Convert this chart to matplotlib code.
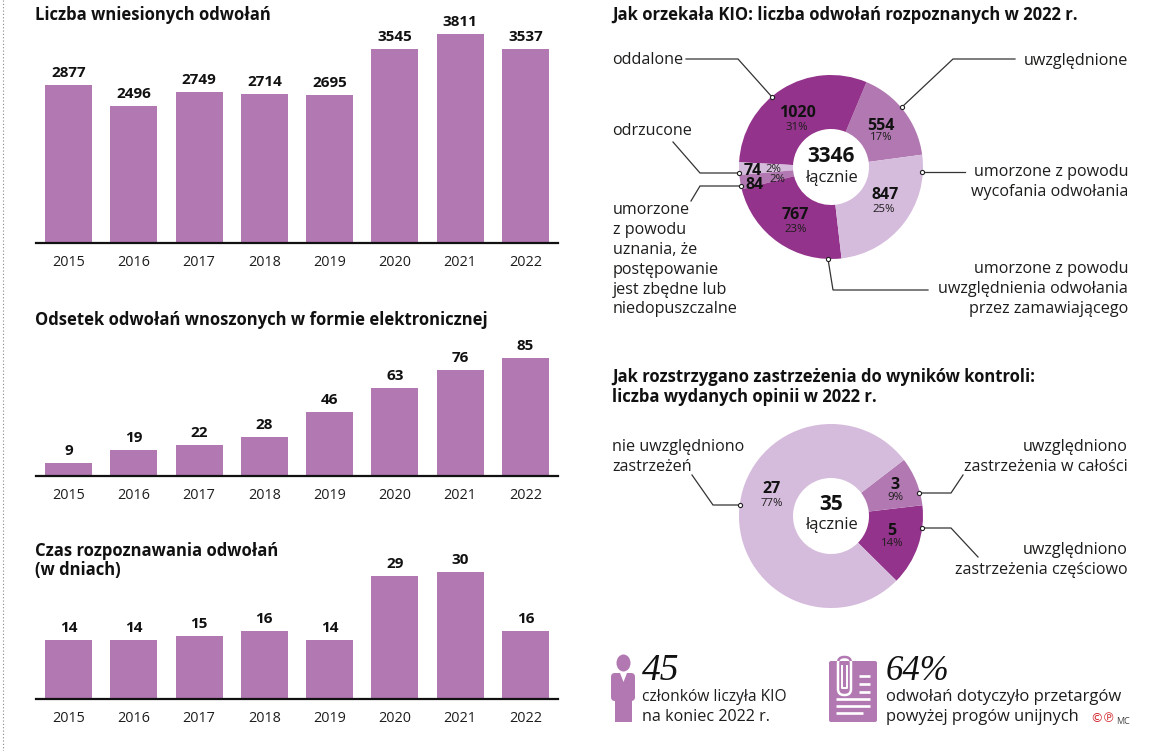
import matplotlib
matplotlib.use("Agg")
import matplotlib.pyplot as plt
from matplotlib.patches import Ellipse, FancyBboxPatch, Rectangle, Polygon

plt.rcParams["font.family"] = ["Open Sans", "DejaVu Sans"]

W, H = 1176, 751

MEDIUM = "#b178b1"
DARK = "#93338b"
LIGHT = "#d5bbdc"
TEXT = "#1d1d1b"

years = ["2015", "2016", "2017", "2018", "2019", "2020", "2021", "2022"]
appeals = [2877, 2496, 2749, 2714, 2695, 3545, 3811, 3537]
electronic = [9, 19, 22, 28, 46, 63, 76, 85]
days = [14, 14, 15, 16, 14, 29, 30, 16]

# counter-clockwise from the right side of each ring
kio_labels = ["554", "1020", "74", "84", "767", "847"]
kio_values = [554, 1020, 74, 84, 767, 847]
kio_pct = ["17%", "31%", "2%", "2%", "23%", "25%"]
kio_colors = [MEDIUM, DARK, LIGHT, MEDIUM, DARK, LIGHT]
kio_total = "3346"

opinion_values = [5, 3, 27]
opinion_pct = ["14%", "9%", "77%"]
opinion_colors = [DARK, MEDIUM, LIGHT]
opinion_total = "35"

fig = plt.figure(figsize=(W / 100, H / 100), dpi=100, facecolor="white")


def px_axes(left, top, right, bottom):
    return fig.add_axes([left / W, 1 - bottom / H, (right - left) / W, (bottom - top) / H])


# ================= BARS =================

def draw_bars(values, top, bottom, ymax):
    ax = px_axes(36, top, 558, bottom)
    ax.bar(range(len(values)), values, width=0.72, color=MEDIUM)
    ax.set_xlim(-0.5, 7.5)
    ax.set_ylim(0, ymax)
    ax.set_xticks(range(len(values)))
    ax.set_xticklabels(years, fontsize=10.4, color=TEXT)
    ax.set_yticks([])
    ax.tick_params(axis="x", length=0, pad=8.5)
    for side in ["top", "left", "right"]:
        ax.spines[side].set_visible(False)
    ax.spines["bottom"].set_linewidth(1.6)
    ax.spines["bottom"].set_color("#111111")
    ax.patch.set_alpha(0)
    for i, v in enumerate(values):
        ax.annotate(str(v), (i, v), xytext=(0, 5), textcoords="offset pixels",
                    ha="center", va="bottom", fontsize=11, fontweight="bold", color="#111111")


draw_bars(appeals, 24, 243, 4000)
draw_bars(electronic, 337, 476, 100)
draw_bars(days, 551, 699, 35)


# ================= RINGS =================

def draw_ring(values, colors, cx, cy, start):
    r = 92
    ax = px_axes(cx - r, cy - r, cx + r, cy + r)
    ax.pie(values, colors=colors, startangle=start, radius=1,
           wedgeprops={"width": 1 - 38 / 92, "linewidth": 0})
    ax.set_xlim(-1, 1)
    ax.set_ylim(-1, 1)


draw_ring(kio_values, kio_colors, 831, 167, 7.7)
draw_ring(opinion_values, opinion_colors, 831, 516, -44.7)

# overlay in pixel coordinates for texts, leaders and icons
ov = fig.add_axes([0, 0, 1, 1])
ov.set_xlim(0, W)
ov.set_ylim(H, 0)
ov.axis("off")
ov.patch.set_alpha(0)


def put(x, y, s, size=11.6, weight="normal", ha="left", color=TEXT, **kw):
    ov.text(x, y, s, fontsize=size, fontweight=weight, ha=ha, va="center", color=color, **kw)


def title(x, y, s):
    put(x, y, s, size=12, weight="bold", color="#111111")


def leader(points):
    xs = [p[0] for p in points]
    ys = [p[1] for p in points]
    ov.plot(xs, ys, color="#333333", lw=0.9, solid_joinstyle="miter")
    ov.plot(xs[-1], ys[-1], "o", ms=3, mfc="white", mec="#222222", mew=0.8)


title(35, 15, "Liczba wniesionych odwołań")
title(35, 320, "Odsetek odwołań wnoszonych w formie elektronicznej")
title(35, 551, "Czas rozpoznawania odwołań")
title(35, 570, "(w dniach)")
title(612, 15, "Jak orzekała KIO: liczba odwołań rozpoznanych w 2022 r.")
title(612, 377, "Jak rozstrzygano zastrzeżenia do wyników kontroli:")
title(612, 397, "liczba wydanych opinii w 2022 r.")

# first ring
kio_xy = [(881, 126), (797, 113), (753, 171), (755, 185), (795, 215), (885, 195)]
kio_pct_xy = [(881, 138), (797, 127), (773, 170), (777, 179), (796, 229), (884, 209)]
for s, xy, p, pxy in zip(kio_labels, kio_xy, kio_pct, kio_pct_xy):
    put(xy[0], xy[1], s, size=11.5, weight="bold", ha="center", color="#111111")
    put(pxy[0], pxy[1], p, size=8.2, ha="center")
put(831, 157, kio_total, size=15, weight="bold", ha="center", color="#111111")
put(831, 178, "łącznie", size=12, ha="center")

leader([(686, 59), (738, 59), (772, 97)])
leader([(1015, 59), (953, 59), (902, 107)])
leader([(965, 172), (922, 172)])
leader([(673, 142), (700, 173), (739, 173)])
leader([(691, 201), (700, 186), (741, 186)])
leader([(928, 290), (833, 290), (828, 259)])

put(612, 60, "oddalone")
put(612, 131, "odrzucone")
put(1128, 61, "uwzględnione", ha="right")
put(1128, 172, "umorzone z powodu", ha="right")
put(1128, 192, "wycofania odwołania", ha="right")
put(1128, 269, "umorzone z powodu", ha="right")
put(1128, 289, "uwzględnienia odwołania", ha="right")
put(1128, 309, "przez zamawiającego", ha="right")
for y, s in zip([210, 230, 250, 270, 290, 309],
                ["umorzone", "z powodu", "uznania, że", "postępowanie", "jest zbędne lub", "niedopuszczalne"]):
    put(613, y, s)

# second ring
op_xy = [(892, 531), (895, 485), (772, 489)]
op_pct_xy = [(892, 544), (895, 498), (772, 503)]
for v, xy, p, pxy in zip(opinion_values, op_xy, opinion_pct, op_pct_xy):
    put(xy[0], xy[1], str(v), size=11.5, weight="bold", ha="center", color="#111111")
    put(pxy[0], pxy[1], p, size=8.2, ha="center")
put(831, 504, opinion_total, size=15, weight="bold", ha="center", color="#111111")
put(831, 525, "łącznie", size=12, ha="center")

leader([(692, 475), (713, 505), (740, 505)])
leader([(963, 475), (951, 493), (919, 493)])
leader([(978, 557), (951, 528), (922, 528)])

put(612, 447, "nie uwzględniono")
put(612, 467, "zastrzeżeń")
put(1128, 447, "uwzględniono", ha="right")
put(1128, 467, "zastrzeżenia w całości", ha="right")
put(1128, 550, "uwzględniono", ha="right")
put(1128, 570, "zastrzeżenia częściowo", ha="right")

# ================= BOTTOM NOTES =================

put(642, 671, "45", size=27, family="Liberation Serif", style="italic", color="#111111")
put(642, 697, "członków liczyła KIO", size=11.2)
put(642, 717, "na koniec 2022 r.")
put(886, 671, "64%", size=25, family="Liberation Serif", style="italic", color="#111111")
put(886, 697, "odwołań dotyczyło przetargów", size=12)
put(886, 717, "powyżej progów unijnych", size=11.8)
ov.text(1090, 719, "©℗", fontsize=9, color="#d2232a", family="DejaVu Sans", ha="left", va="center")
put(1116, 721, "MC", size=6.5, color="#444444")

# man icon
ov.add_patch(Ellipse((623.5, 663), 14, 17, fc=MEDIUM, ec="none"))
ov.add_patch(FancyBboxPatch((611, 673), 24, 28, boxstyle="round,pad=0,rounding_size=4", fc=MEDIUM, ec="none"))
ov.add_patch(Rectangle((615, 695), 17, 27, fc=MEDIUM, ec="none"))
ov.add_patch(Polygon([(620, 673), (627, 673), (623.5, 682)], fc="white", ec="none"))

# document icon
ov.add_patch(FancyBboxPatch((829, 661), 48, 61, boxstyle="round,pad=0,rounding_size=2", fc=MEDIUM, ec="none"))
clip = FancyBboxPatch((838, 657), 13, 38, boxstyle="round,pad=0,rounding_size=6", fc="none", ec=MEDIUM, lw=1.8)
ov.add_patch(clip)
clip_w = FancyBboxPatch((838, 657), 13, 38, boxstyle="round,pad=0,rounding_size=6", fc="none", ec="white", lw=1.8)
ov.add_patch(clip_w)
clip_w.set_clip_path(Rectangle((829, 661), 48, 61, transform=ov.transData))
ov.plot([842, 842, 847, 847], [666, 688, 688, 666], color="white", lw=1.4)
for y, x0, x1 in [(676, 859, 870), (684, 859, 870), (692, 859, 870),
                  (699, 836, 870), (706, 836, 870), (713, 836, 863)]:
    ov.plot([x0, x1], [y, y], color="white", lw=1.9, solid_capstyle="butt")

# dotted page rule on the left
ov.plot([3, 3], [0, H], color="#888888", lw=0.8, ls=(0, (1, 2)))

fig.savefig("out.png", dpi=100)
plt.close(fig)
